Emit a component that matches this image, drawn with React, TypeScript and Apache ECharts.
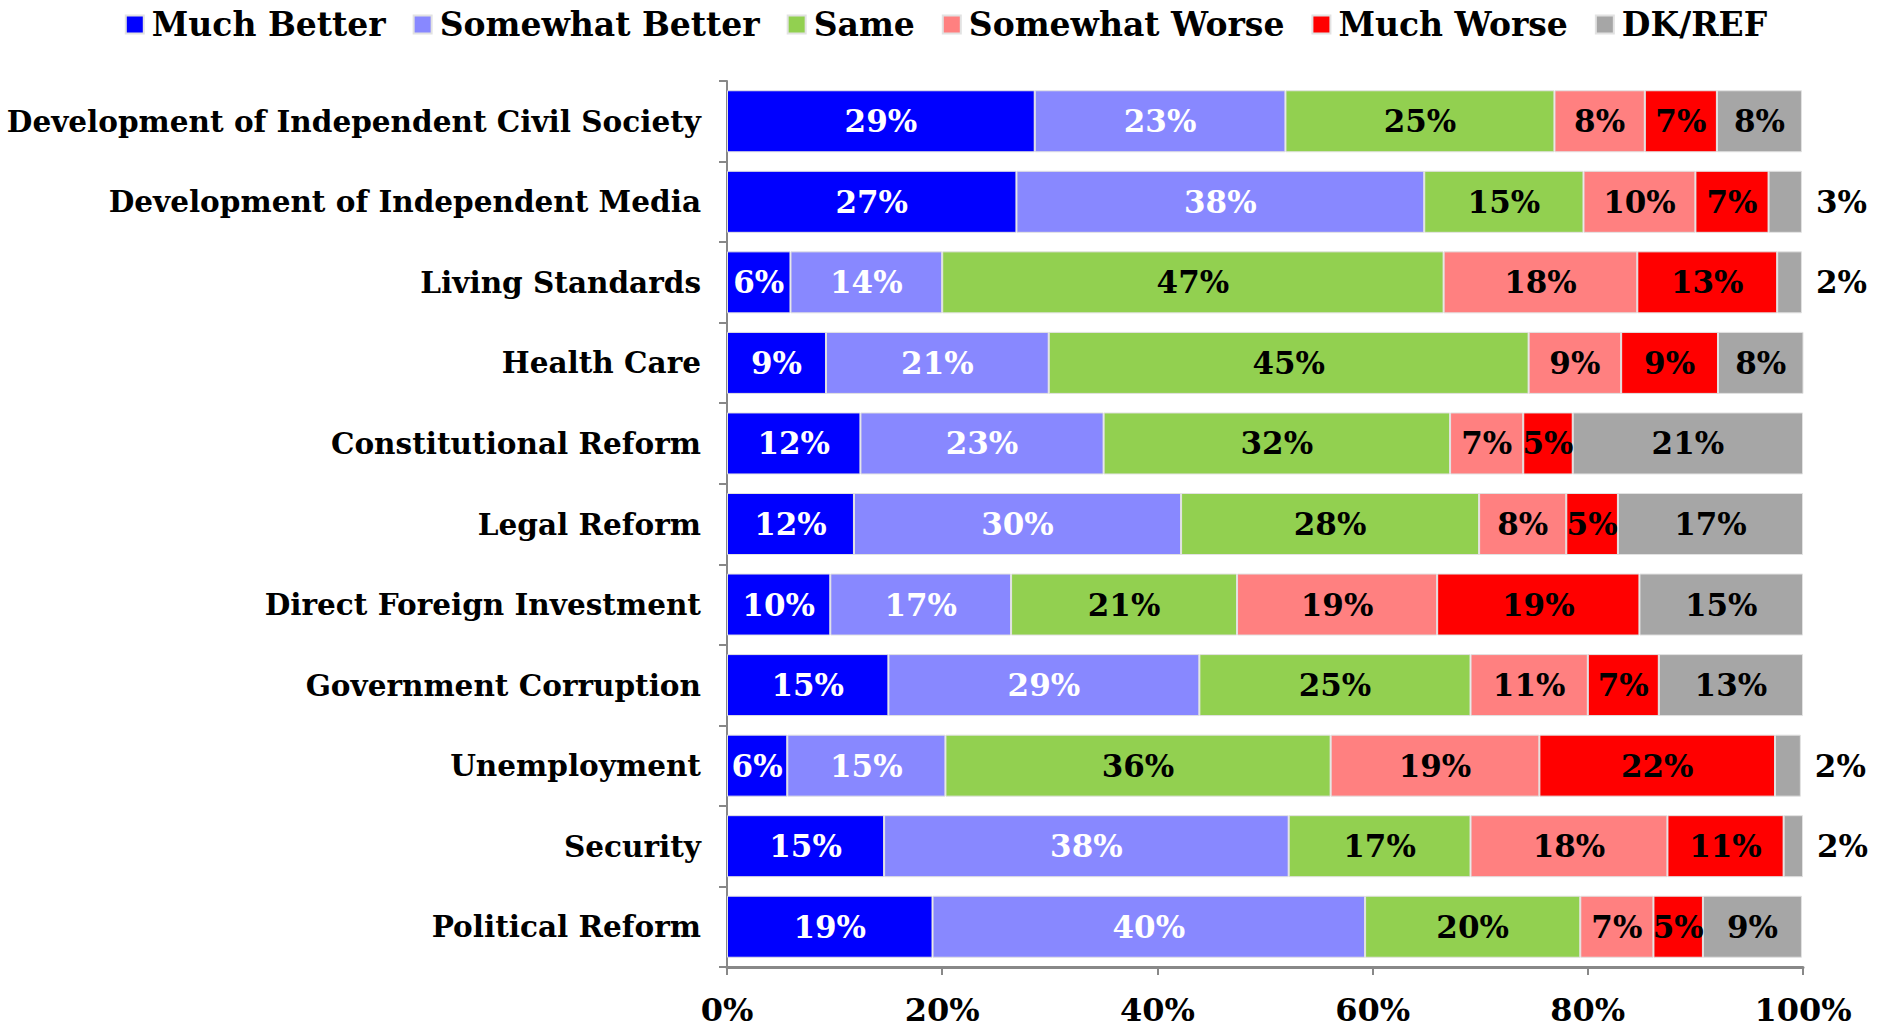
import React, { useEffect, useRef } from "react";
import * as echarts from "echarts";

const categories = [
  "Development of Independent Civil Society",
  "Development of Independent Media",
  "Living Standards",
  "Health Care",
  "Constitutional Reform",
  "Legal Reform",
  "Direct Foreign Investment",
  "Government Corruption",
  "Unemployment",
  "Security",
  "Political Reform",
];

const seriesNames = ["Much Better", "Somewhat Better", "Same", "Somewhat Worse", "Much Worse", "DK/REF"];

const muchBetter = [28.6, 26.9, 5.9, 9.2, 12.4, 11.8, 9.6, 15.0, 5.6, 14.6, 19.1];
const somewhatBetter = [23.3, 37.9, 14.1, 20.7, 22.6, 30.4, 16.8, 28.9, 14.7, 37.6, 40.2];
const same = [25.0, 14.8, 46.6, 44.6, 32.2, 27.7, 21.0, 25.2, 35.8, 16.9, 20.0];
const somewhatWorse = [8.4, 10.4, 18.0, 8.6, 6.8, 8.1, 18.6, 10.9, 19.4, 18.3, 6.8];
const muchWorse = [6.7, 6.8, 13.0, 9.0, 4.6, 4.8, 18.8, 6.6, 21.9, 10.8, 4.6];
const dkRef = [7.9, 3.1, 2.3, 8.0, 21.4, 17.2, 15.2, 13.4, 2.4, 1.8, 9.2];

const xTicks = [0, 20, 40, 60, 80, 100];

const colors = ["#0000FF", "#8888FF", "#92D050", "#FF8080", "#FF0000", "#A6A6A6"];
const labelColors = ["#FFFFFF", "#FFFFFF", "#000000", "#000000", "#000000", "#000000"];

const FONT = "'DejaVu Serif', Georgia, serif";

export default function App() {
  const ref = useRef<HTMLDivElement>(null);

  useEffect(() => {
    document.body.style.margin = "0";
    if (!ref.current) return;
    const chart = echarts.init(ref.current, null, { renderer: "svg" });
    const allData = [muchBetter, somewhatBetter, same, somewhatWorse, muchWorse, dkRef];

    const series = allData.map((arr, si) => ({
      name: seriesNames[si],
      type: "bar",
      stack: "total",
      barCategoryGap: "23%",
      itemStyle: { color: colors[si], borderColor: "#e2e2e2", borderWidth: 1 },
      label: {
        show: true,
        position: "inside",
        color: labelColors[si],
        fontFamily: FONT,
        fontWeight: "bold",
        fontSize: 31,
        formatter: (p: any) => Math.round(p.value) + "%",
      },
      data: arr.map((v) =>
        si === 5 && v < 5
          ? { value: v, label: { position: "right", distance: 14, color: "#000" } }
          : { value: v }
      ),
    }));

    chart.setOption({
      animation: false,
      color: colors,
      legend: {
        data: seriesNames,
        top: 3,
        left: "center",
        itemWidth: 18,
        itemHeight: 18,
        itemGap: 27,
        icon: "rect",
        textStyle: { fontFamily: FONT, fontWeight: "bold", fontSize: 33, color: "#000", padding: [0, 0, 0, 3] },
      },
      grid: { left: 727, right: 89, top: 81, bottom: 63, containLabel: false },
      xAxis: {
        type: "value",
        min: 0,
        max: 100,
        interval: 20,
        axisLine: { show: true, lineStyle: { color: "#888", width: 3 } },
        axisTick: { show: true, length: 8, lineStyle: { color: "#888", width: 2 } },
        splitLine: { show: false },
        axisLabel: {
          margin: 27,
          fontFamily: FONT,
          fontWeight: "bold",
          fontSize: 32,
          color: "#000",
          formatter: (v: number) => (xTicks.includes(v) ? v + "%" : ""),
        },
      },
      yAxis: {
        type: "category",
        data: categories,
        inverse: true,
        axisLine: { show: true, lineStyle: { color: "#888", width: 2 } },
        axisTick: { show: true, length: 8, alignWithLabel: false, lineStyle: { color: "#888", width: 2 } },
        axisLabel: {
          margin: 26,
          fontFamily: FONT,
          fontWeight: "bold",
          fontSize: 29.5,
          color: "#000",
        },
      },
      series,
    });

    return () => chart.dispose();
  }, []);

  return <div ref={ref} style={{ width: 1892, height: 1030 }} />;
}
